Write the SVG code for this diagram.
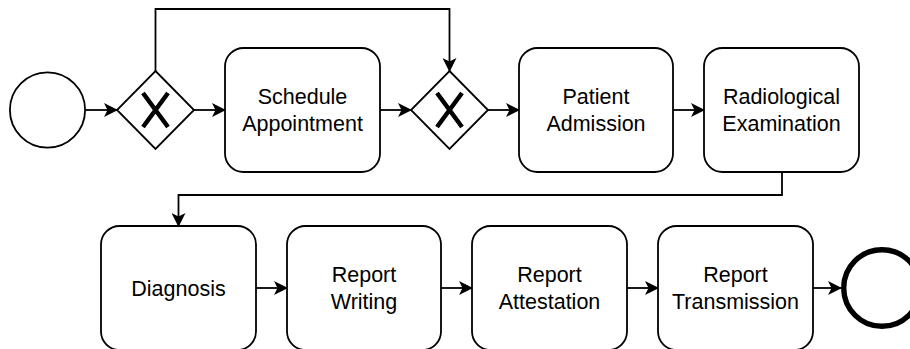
<svg xmlns="http://www.w3.org/2000/svg" width="910" height="349" viewBox="0 0 910 349">
<style>
.box{fill:#fff;stroke:#000;stroke-width:1.8}
.ev{fill:#fff;stroke:#000;stroke-width:1.8}
.end{fill:#fff;stroke:#000;stroke-width:5.4}
.x{stroke:#000;stroke-width:4.5;stroke-linecap:butt}
.lbl{font-family:"Liberation Sans",Arial,sans-serif;font-size:21.5px;fill:#000;text-anchor:middle}
.edge{fill:none;stroke:#000;stroke-width:1.8}
</style>
<defs>
<marker id="arr" viewBox="0 0 14 14" refX="13" refY="7" markerWidth="14" markerHeight="14" markerUnits="userSpaceOnUse" orient="auto">
<path d="M0,0 L14,7 L0,14 L3.5,7 Z" fill="#000"/>
</marker>
</defs>
<rect width="910" height="349" fill="#fff"/>
<g id="connectors">
<path class="edge" d="M86,110 H117" marker-end="url(#arr)"/>
<path class="edge" d="M194,110 H225" marker-end="url(#arr)"/>
<path class="edge" d="M380,110 H411" marker-end="url(#arr)"/>
<path class="edge" d="M488,110 H519" marker-end="url(#arr)"/>
<path class="edge" d="M673,110 H704" marker-end="url(#arr)"/>
<path class="edge" d="M155.5,71 V9 H449.5 V71" marker-end="url(#arr)"/>
<path class="edge" d="M782,172 V195 H178.5 V226" marker-end="url(#arr)"/>
<path class="edge" d="M256,288 H287" marker-end="url(#arr)"/>
<path class="edge" d="M441,288 H472" marker-end="url(#arr)"/>
<path class="edge" d="M627,288 H658" marker-end="url(#arr)"/>
<path class="edge" d="M813,288 H841" marker-end="url(#arr)"/>
</g>
<g id="start">
<circle class="ev" cx="47.5" cy="110" r="37.6"/>
</g>
<g id="gateway1">
<path class="box" d="M155.5,71 L194,110 L155.5,149 L117,110 Z"/>
<path class="x" d="M143,93 L168,127 M168,93 L143,127"/>
</g>
<g id="schedule">
<rect class="box" x="225" y="48" width="155" height="124" rx="18.6"/>
<text class="lbl" x="302.5" y="104">Schedule</text>
<text class="lbl" x="302.5" y="130.5">Appointment</text>
</g>
<g id="gateway2">
<path class="box" d="M449.5,71 L488,110 L449.5,149 L411,110 Z"/>
<path class="x" d="M437,93 L462,127 M462,93 L437,127"/>
</g>
<g id="patient">
<rect class="box" x="519" y="48" width="154" height="124" rx="18.6"/>
<text class="lbl" x="596" y="104">Patient</text>
<text class="lbl" x="596" y="130.5">Admission</text>
</g>
<g id="radiological">
<rect class="box" x="704" y="48" width="155" height="124" rx="18.6"/>
<text class="lbl" x="781.5" y="104">Radiological</text>
<text class="lbl" x="781.5" y="130.5">Examination</text>
</g>
<g id="diagnosis">
<rect class="box" x="101" y="226" width="155" height="124" rx="18.6"/>
<text class="lbl" x="178.5" y="296">Diagnosis</text>
</g>
<g id="writing">
<rect class="box" x="287" y="226" width="154" height="124" rx="18.6"/>
<text class="lbl" x="364" y="282">Report</text>
<text class="lbl" x="364" y="308.5">Writing</text>
</g>
<g id="attestation">
<rect class="box" x="472" y="226" width="155" height="124" rx="18.6"/>
<text class="lbl" x="549.5" y="282">Report</text>
<text class="lbl" x="549.5" y="308.5">Attestation</text>
</g>
<g id="transmission">
<rect class="box" x="658" y="226" width="155" height="124" rx="18.6"/>
<text class="lbl" x="735.5" y="282">Report</text>
<text class="lbl" x="735.5" y="308.5">Transmission</text>
</g>
<g id="end">
<circle class="end" cx="882" cy="288" r="38.3"/>
</g>
</svg>
